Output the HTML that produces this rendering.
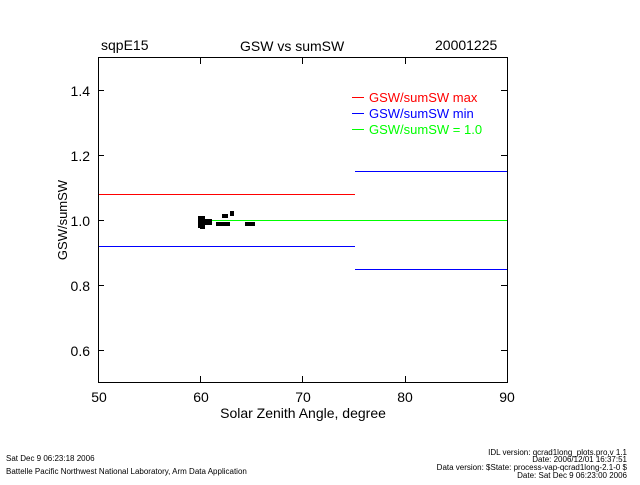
<!DOCTYPE html><html><head><style>body{margin:0;background:#fff}svg text{font-family:"Liberation Sans",sans-serif}</style></head><body>
<svg width="640" height="480" xmlns="http://www.w3.org/2000/svg">
<rect width="640" height="480" fill="#fff"/>
<g font-size="14" fill="#000">
<text x="101" y="50">sqpE15</text>
<text x="240" y="51">GSW vs sumSW</text>
<text x="435" y="50">20001225</text>
</g>
<g stroke="#000" stroke-width="1" fill="none">
<rect x="98.5" y="57.5" width="409" height="325"/>
<path d="M200.5 382v-6M302.5 382v-6M405.5 382v-6M200.5 58v6M302.5 58v6M405.5 58v6
M98 350.5h6M98 285.5h6M98 220.5h6M98 155.5h6M98 90.5h6M501 350.5h6M501 285.5h6M501 220.5h6M501 155.5h6M501 90.5h6"/>
</g>
<g font-size="14" fill="#000" text-anchor="middle">
<text x="99" y="402">50</text><text x="201" y="402">60</text><text x="303" y="402">70</text><text x="405" y="402">80</text><text x="507" y="402">90</text>
<text x="303" y="418">Solar Zenith Angle, degree</text>
</g>
<g font-size="14" fill="#000" text-anchor="end">
<text x="90" y="356">0.6</text><text x="90" y="291">0.8</text><text x="90" y="226">1.0</text><text x="90" y="161">1.2</text><text x="90" y="96">1.4</text>
</g>
<text x="67" y="220" font-size="13" text-anchor="middle" transform="rotate(-90 67 220)">GSW/sumSW</text>
<line x1="99" y1="194.5" x2="355" y2="194.5" stroke="#f00"/>
<line x1="99" y1="246.5" x2="355" y2="246.5" stroke="#00f"/>
<line x1="212" y1="220.5" x2="507" y2="220.5" stroke="#0f0"/>
<line x1="355" y1="171.5" x2="507" y2="171.5" stroke="#00f"/>
<line x1="355" y1="269.5" x2="507" y2="269.5" stroke="#00f"/>
<g fill="#000">
<rect x="198" y="216" width="7" height="12"/><rect x="203" y="219" width="9" height="6"/>
<rect x="216" y="222" width="14" height="4"/><rect x="222" y="214" width="6" height="4"/>
<rect x="230" y="211" width="4" height="5"/><rect x="245" y="222" width="10" height="4"/>
<rect x="200" y="225" width="5" height="4"/>
</g>
<g font-size="13">
<line x1="352" y1="97.5" x2="364" y2="97.5" stroke="#f00"/><text x="369" y="102" fill="#f00">GSW/sumSW max</text>
<line x1="352" y1="113.5" x2="364" y2="113.5" stroke="#00f"/><text x="369" y="118" fill="#00f">GSW/sumSW min</text>
<line x1="352" y1="129.5" x2="364" y2="129.5" stroke="#0f0"/><text x="369" y="134" fill="#0f0">GSW/sumSW = 1.0</text>
</g>
<g font-size="8" fill="#000">
<text x="6" y="461">Sat Dec  9 06:23:18 2006</text>
<text x="6" y="474">Battelle Pacific Northwest National Laboratory, Arm Data Application</text>
<text x="627" y="455" text-anchor="end">IDL version: qcrad1long_plots.pro,v 1.1</text>
<text x="627" y="462" text-anchor="end">Date: 2006/12/01 16:37:51</text>
<text x="627" y="470" text-anchor="end">Data version: $State: process-vap-qcrad1long-2.1-0 $</text>
<text x="627" y="478" text-anchor="end">Date: Sat Dec  9 06:23:00 2006</text>
</g>
</svg>
</body></html>
